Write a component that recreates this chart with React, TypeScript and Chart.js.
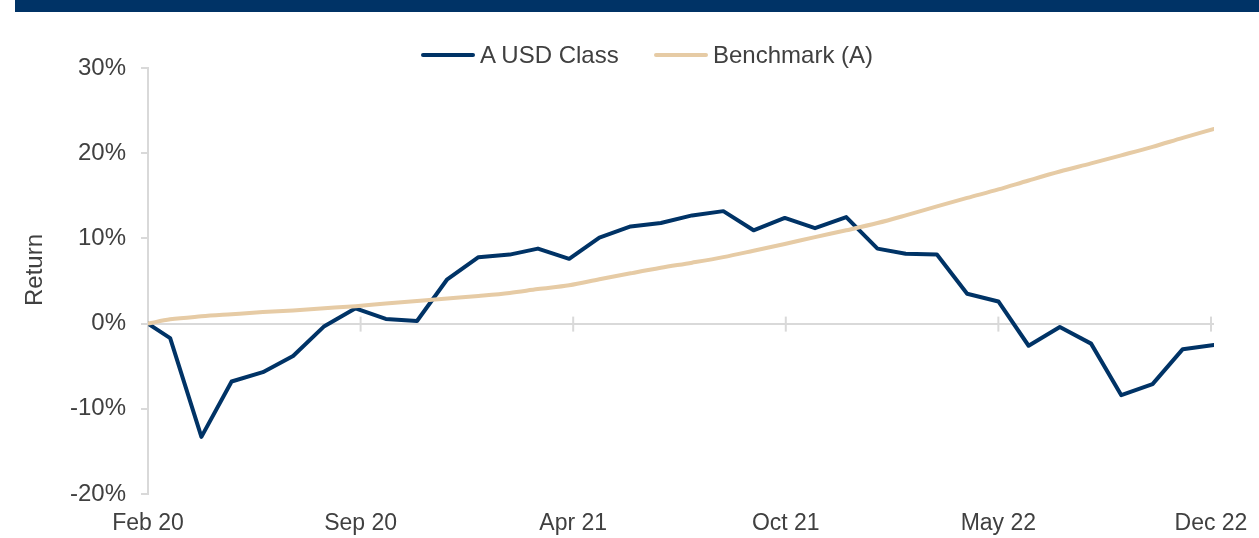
import React, { useEffect, useRef } from 'react';
import { Chart, registerables } from 'chart.js';

Chart.register(...registerables);

// ---- data ----
const dates = [
  '2020-02-07', '2020-02-29', '2020-03-31', '2020-04-30', '2020-05-31', '2020-06-30',
  '2020-07-31', '2020-08-31', '2020-09-30', '2020-10-31', '2020-11-30', '2020-12-31',
  '2021-01-31', '2021-02-28', '2021-03-31', '2021-04-30', '2021-05-31', '2021-06-30',
  '2021-07-31', '2021-08-31', '2021-09-30', '2021-10-31', '2021-11-30', '2021-12-31',
  '2022-01-31', '2022-02-28', '2022-03-31', '2022-04-30', '2022-05-31', '2022-06-30',
  '2022-07-31', '2022-08-31', '2022-09-30', '2022-10-31', '2022-11-30', '2022-12-31',
];

const fundReturns = [
  0, -1.7, -13.3, -6.8, -5.7, -3.8,
  -0.3, 1.8, 0.55, 0.3, 5.2, 7.8,
  8.1, 8.8, 7.6, 10.1, 11.4, 11.8,
  12.7, 13.2, 10.95, 12.4, 11.2, 12.5,
  8.8, 8.2, 8.1, 3.5, 2.6, -2.6,
  -0.4, -2.35, -8.4, -7.1, -3.0, -2.5,
];

const benchmarkReturns = [
  0, 0.5, 0.85, 1.1, 1.35, 1.55,
  1.8, 2.05, 2.35, 2.65, 2.95, 3.25,
  3.6, 4.05, 4.5, 5.2, 5.9, 6.55,
  7.15, 7.8, 8.55, 9.35, 10.15, 10.95,
  11.8, 12.7, 13.75, 14.75, 15.75, 16.8,
  17.85, 18.8, 19.75, 20.75, 21.8, 22.85,
];

const seriesNames = ['A USD Class', 'Benchmark (A)'];
const seriesColors = ['#003366', '#E6CBA5'];

const tickDates = ['2020-02-07', '2020-09-05', '2021-04-04', '2021-11-01', '2022-05-31', '2022-12-28'];
const tickLabels = ['Feb 20', 'Sep 20', 'Apr 21', 'Oct 21', 'May 22', 'Dec 22'];

const yMin = -20;
const yMax = 30;
const yStep = 10;
const yTitle = 'Return';

// ---- helpers ----
const DAY = 86400000;
const t0 = Date.parse(dates[0]);
const toDay = (d: string) => Math.round((Date.parse(d) - t0) / DAY);

const FONT = "'Liberation Sans', Arial, sans-serif";
const TEXT = '#404040';
const AXIS = '#d9d9d9';

const zeroAxisTicks = {
  id: 'zeroAxisTicks',
  beforeDatasetsDraw(chart: any) {
    const { ctx, scales } = chart;
    const x = scales.x;
    const y = scales.y;
    const y0 = y.getPixelForValue(0);
    ctx.save();
    ctx.strokeStyle = AXIS;
    ctx.lineWidth = 2;
    x.ticks.forEach((_t: any, i: number) => {
      const px = x.getPixelForTick(i);
      ctx.beginPath();
      ctx.moveTo(px, y0 - 7);
      ctx.lineTo(px, y0 + 8);
      ctx.stroke();
    });
    ctx.restore();
  },
};

const yAxisTitle = {
  id: 'yAxisTitle',
  afterDraw(chart: any) {
    const { ctx, chartArea } = chart;
    ctx.save();
    ctx.translate(35, (chartArea.top + chartArea.bottom) / 2 - 11);
    ctx.rotate(-Math.PI / 2);
    ctx.fillStyle = TEXT;
    ctx.font = `24px ${FONT}`;
    ctx.textAlign = 'center';
    ctx.textBaseline = 'middle';
    ctx.fillText(yTitle, 0, 0);
    ctx.restore();
  },
};

export default function App() {
  const canvasRef = useRef<HTMLCanvasElement | null>(null);

  useEffect(() => {
    document.body.style.margin = '0';
    const canvas = canvasRef.current;
    if (!canvas) return;
    Chart.defaults.font.family = FONT;
    const chart = new Chart(canvas, {
      type: 'line',
      data: {
        datasets: [
          {
            label: seriesNames[0],
            data: dates.map((d, i) => ({ x: toDay(d), y: fundReturns[i] })),
            borderColor: seriesColors[0],
            backgroundColor: seriesColors[0],
            borderWidth: 4,
            pointRadius: 0,
            tension: 0,
            borderJoinStyle: 'round',
            borderCapStyle: 'round',
            order: 1,
          },
          {
            label: seriesNames[1],
            data: dates.map((d, i) => ({ x: toDay(d), y: benchmarkReturns[i] })),
            borderColor: seriesColors[1],
            backgroundColor: seriesColors[1],
            borderWidth: 4,
            pointRadius: 0,
            cubicInterpolationMode: 'monotone',
            borderJoinStyle: 'round',
            borderCapStyle: 'round',
            order: 0,
          },
        ],
      },
      options: {
        animation: false,
        responsive: false,
        maintainAspectRatio: false,
        layout: { padding: { top: 68, left: 0, right: 45, bottom: 0 } },
        plugins: {
          legend: { display: false },
          tooltip: { enabled: false },
        },
        scales: {
          x: {
            type: 'linear',
            min: toDay(dates[0]),
            max: toDay(dates[dates.length - 1]),
            grid: { display: false, drawTicks: false },
            border: { display: false },
            afterBuildTicks: (scale: any) => {
              scale.ticks = tickDates.map((d) => ({ value: toDay(d) }));
            },
            afterFit: (scale: any) => {
              scale.height = 44;
              scale.paddingLeft = 0;
              scale.paddingRight = 0;
            },
            ticks: {
              autoSkip: false,
              maxRotation: 0,
              minRotation: 0,
              padding: 16,
              color: TEXT,
              font: { size: 23, family: FONT },
              callback: (_v: any, i: number) => tickLabels[i],
            },
          },
          y: {
            min: yMin,
            max: yMax,
            afterFit: (scale: any) => {
              scale.width = 148;
            },
            ticks: {
              stepSize: yStep,
              padding: 15,
              color: TEXT,
              font: { size: 24, family: FONT },
              callback: (v: any) => `${v}%`,
            },
            grid: {
              color: (ctx: any) => (ctx.tick && ctx.tick.value === 0 ? AXIS : 'rgba(0,0,0,0)'),
              lineWidth: 2,
              drawTicks: true,
              tickLength: 7,
              tickColor: AXIS,
              tickWidth: 2,
            },
            border: { display: true, color: AXIS, width: 2 },
            title: { display: false },
          },
        },
      },
      plugins: [zeroAxisTicks, yAxisTitle],
    } as any);
    return () => chart.destroy();
  }, []);

  const legendItem = (i: number, left: number) => (
    <div
      key={i}
      style={{
        position: 'absolute',
        top: 41,
        left,
        height: 28,
        display: 'flex',
        alignItems: 'center',
        whiteSpace: 'nowrap',
      }}
    >
      <span
        style={{
          display: 'inline-block',
          width: 54,
          height: 4,
          borderRadius: 2,
          background: seriesColors[i],
        }}
      />
      <span
        style={{
          marginLeft: 5,
          fontFamily: FONT,
          fontSize: 24,
          lineHeight: '28px',
          color: TEXT,
        }}
      >
        {seriesNames[i]}
      </span>
    </div>
  );

  return (
    <div style={{ position: 'relative', width: 1259, height: 538, background: '#fff', overflow: 'hidden' }}>
      <canvas
        ref={canvasRef}
        width={1259}
        height={538}
        style={{ position: 'absolute', left: 0, top: 0, width: 1259, height: 538, display: 'block' }}
      />
      <div style={{ position: 'absolute', left: 15, top: 0, width: 1244, height: 12, background: '#003366' }} />
      {legendItem(0, 421)}
      {legendItem(1, 654)}
    </div>
  );
}
